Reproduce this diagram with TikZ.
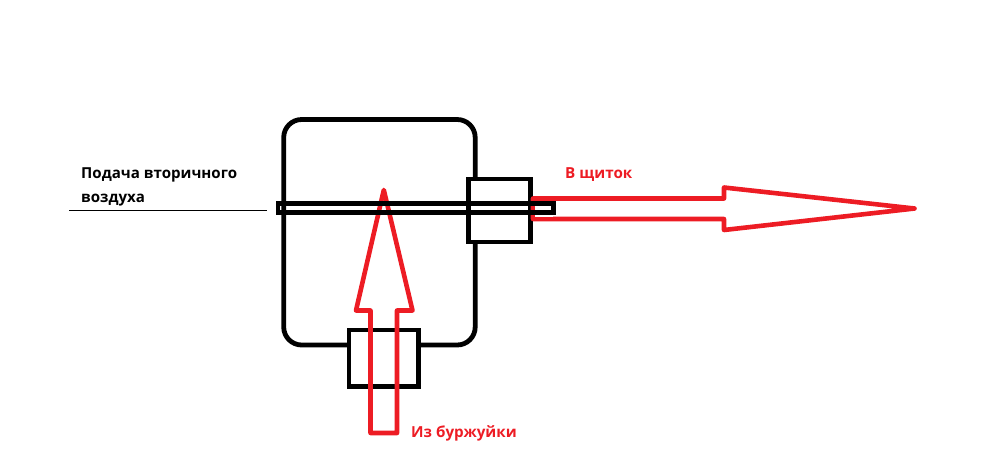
\documentclass[tikz,border=0pt]{standalone}
\usepackage{fontspec}
\setmainfont{Open Sans}
\definecolor{pipered}{HTML}{ED1C24}
\tikzset{
  wall/.style={line width=4.8pt,black},
  flow/.style={line width=4.6pt,pipered,line join=round},
  redtext/.style={pipered,font=\fontsize{15.2}{17}\selectfont\bfseries,anchor=base west,inner sep=0pt},
  blacktext/.style={black,font=\fontsize{15.1}{17}\selectfont\bfseries,anchor=base west,inner sep=0pt}
}
\begin{document}
\begin{tikzpicture}[x=1pt,y=-1pt]
\useasboundingbox (0,0) rectangle (987,475);

\draw[wall,rounded corners=18pt] (283.7,119.5) rectangle (475.2,345);

\draw[wall,fill=white] (468.8,179) rectangle (530.2,242);
\draw[wall,fill=white] (349,330) rectangle (418.5,386.5);

\draw[flow] (383.8,190) -- (412.5,310.5) -- (397,310.5) -- (397,433) -- (370.5,433) -- (370.5,310.5) -- (356,310.5) -- cycle;
\draw[flow] (533,198.5) -- (724,198.5) -- (724,187.5) -- (914.5,208.5) -- (724,230) -- (724,219) -- (533,219) -- cycle;
\fill[white] (535.3,200.8) rectangle (553,216.7);

\draw[wall] (278,203.7) rectangle (553.5,212.3);
\draw[black,line width=1pt] (69,210.5) -- (267,210.5);

\draw (81,178) node[blacktext] (supply1) {Подача вторичного};
\draw (81,202) node[blacktext] (supply2) {воздуха};
\draw (565,178) node[redtext] (outlabel) {В щиток};
\draw (411,437.5) node[redtext] (inlabel) {Из буржуйки};

\end{tikzpicture}
\end{document}
